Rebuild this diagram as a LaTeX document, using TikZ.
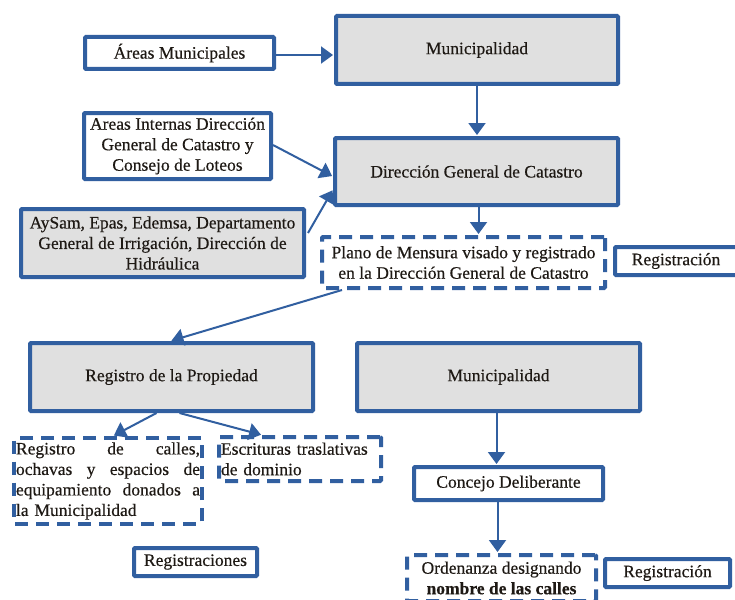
\documentclass[tikz,border=0pt]{standalone}
\usepackage{fontspec}
\setmainfont{Liberation Serif}[FakeBold=0.4]
\usetikzlibrary{arrows.meta,calc}
\definecolor{bblue}{RGB}{49,95,160}
\definecolor{bgray}{RGB}{224,224,224}
\definecolor{txt}{RGB}{30,25,20}
\tikzset{
  box/.style={draw=bblue, line width=4pt, text=txt, align=center, inner sep=2pt, rounded corners=1pt},
  solidw/.style={box, fill=white},
  grayb/.style={box, fill=bgray},
  dashb/.style={box, fill=white, dash pattern=on 13pt off 8pt},
  arr/.style={draw=bblue, line width=2pt, -{Triangle[length=12pt,width=17pt]}, shorten >=1pt}
}
\begin{document}
\begin{tikzpicture}[x=1pt,y=-1pt,font=\fontsize{17.5}{20.5}\selectfont]
\useasboundingbox (0,0) rectangle (735,599);
\clip (0,0) rectangle (735,599);
\fill[white] (0,0) rectangle (735,599);
% row 1
\node[solidw, minimum width=189pt, minimum height=32pt] (am) at (179.5,53) {Áreas Municipales};
\node[grayb, minimum width=282pt, minimum height=68pt] (mun1) at (477,50) {Municipalidad};
% row 2
\node[solidw, minimum width=187pt, minimum height=66pt] (ai) at (177.5,146) {Areas Internas Dirección\\General de Catastro y\\Consejo de Loteos};
\node[grayb, minimum width=283pt, minimum height=67pt] (dgc) at (476.5,171.5) {Dirección General de Catastro};
\node[grayb, minimum width=283pt, minimum height=68pt] (ays) at (162.5,243) {AySam, Epas, Edemsa, Departamento\\General de Irrigación, Dirección de\\Hidráulica};
\node[dashb, minimum width=283pt, minimum height=51pt] (plano) at (463.5,262.5) {Plano de Mensura visado y registrado\\en la Dirección General de Catastro};
\node[solidw, minimum width=122pt, minimum height=28pt] (reg1) at (676,261) {Registración};
% row 3
\node[grayb, minimum width=283pt, minimum height=68pt] (rp) at (171.5,377) {Registro de la Propiedad};
\node[grayb, minimum width=283pt, minimum height=68pt] (mun2) at (498.5,377) {Municipalidad};
\node[dashb, text width=184pt, minimum height=86pt, align=left] (rc) at (108,481)
  {Registro\hfill de\hfill calles,\\ochavas\hfill y\hfill espacios\hfill de\\equipamiento\hfill donados\hfill a\\la Municipalidad};
\node[dashb, text width=158pt, minimum height=44pt, align=left] (esc) at (300,459) {Escrituras traslativas\\de dominio};
\node[solidw, minimum width=189pt, minimum height=33pt] (cd) at (508.5,483.5) {Concejo Deliberante};
\node[solidw, minimum width=123pt, minimum height=28pt] (regs) at (195.5,562) {Registraciones};
\node[dashb, minimum width=189pt, minimum height=46pt] (ord) at (501.5,578) {Ordenanza designando\\\textbf{nombre de las calles}};
\node[solidw, minimum width=125pt, minimum height=28pt] (reg2) at (667.5,573) {Registración};
% connectors
\draw[arr] ($(am.east)+(0,2)$) -- ($(am.east -| mun1.west)+(0,2)$);
\draw[arr] (mun1.south) -- (mun1.south |- dgc.north);
\draw[arr] ($(ai.east)+(0,-1)$) -- ($(dgc.west)+(0,5)$);
\draw[arr] ($(ays.east)+(2,-10)$) -- ($(dgc.west)+(0,18)$);
\draw[arr] ($(dgc.south)+(2,0)$) -- ($(dgc.south |- plano.north)+(2,0)$);
\draw[arr] ($(plano.south west)+(22,0)$) -- ($(rp.north)+(-1,0)$);
\draw[arr] ($(rp.south)+(-15,0)$) -- ($(rc.north)+(5,0)$);
\draw[arr] ($(rp.south)+(8,0)$) -- ($(esc.north)+(-38,0)$);
\draw[arr] ($(mun2.south)+(-2,0)$) -- ($(mun2.south |- cd.north)+(-2,0)$);
\draw[arr] ($(cd.south)+(-11,0)$) -- ($(cd.south |- ord.north)+(-11,0)$);
\end{tikzpicture}
\end{document}
